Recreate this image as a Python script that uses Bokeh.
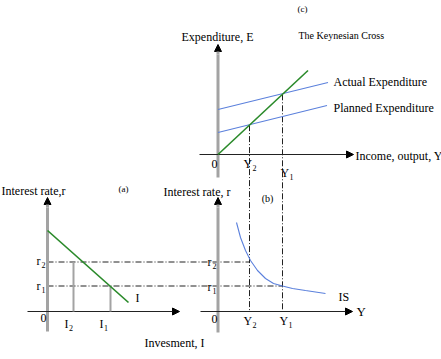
from bokeh.plotting import figure
from bokeh.models import Range1d, Arrow, NormalHead
from bokeh.core.properties import value
from bokeh.embed import file_html
from bokeh.resources import INLINE

FONT = "Liberation Serif"

# ---------------- data (diagram units) ----------------
# Panel (c): Keynesian cross, income Y vs expenditure E
cross_Y = [0, 90]
cross_E = [0, 84]
actual_Y = [0, 110]
actual_E = [45, 72]
planned_Y = [0, 109]
planned_E = [22, 49]
income_levels = {"Y2": 31.5, "Y1": 64.5}

# Panel (a): investment schedule, investment I vs interest rate r
invest_I = [0, 81]
invest_r = [81, 9]
rate_levels = {"r2": 49.5, "r1": 25.5}
invest_levels = {"I2": 26, "I1": 63}

# Panel (b): IS curve, income Y vs interest rate r
is_Y = [18.5, 22.5, 27.5, 32.5, 39.5, 47.5, 55.5, 64.5, 74.5, 87.5, 107.5]
is_r = [89, 74, 61, 51, 41, 33, 28, 25.5, 23, 21, 18]

# ---------------- layout ----------------
C_O = (217.5, 154)   # origin of panel (c)
A_O = (47, 311)      # origin of panel (a)
B_O = (217.5, 311)   # origin of panel (b)

def cx(v): return C_O[0] + v
def cy(v): return C_O[1] - v
def ax(v): return A_O[0] + v
def ay(v): return A_O[1] - v
def bx(v): return B_O[0] + v
def by(v): return B_O[1] - v

GREEN = "#2a8a2a"
BLUE = "#5b80dc"
GRAY = "#a3a3a3"
DARK = "#222222"
DASH = "6 2 1 2"

p = figure(width=441, height=359, min_border=0, toolbar_location=None,
           output_backend="svg", x_range=Range1d(0, 441), y_range=Range1d(359, 0))
p.axis.visible = False
p.grid.visible = False
p.outline_line_color = None
p.background_fill_color = "white"
p.border_fill_color = "white"


def axis_arrow(x0, y0, x1, y1, color, width):
    p.add_layout(Arrow(end=NormalHead(size=7, fill_color="black", line_color="black", line_width=1),
                       x_start=x0, y_start=y0, x_end=x1, y_end=y1,
                       line_color=color, line_width=width))


def label(x, y, s, size=12, align="left"):
    p.text(x=[x], y=[y], text=[s], text_font=value(FONT), text_font_size=f"{size}px",
           text_baseline="middle", text_align=align, text_color="black")


def sublabel(x, y, base, sub, base_w, size=12):
    label(x, y, base, size)
    label(x + base_w + 0.5, y + 4, sub, 8)


# ---------- dashed guide lines (drawn first) ----------
y2, y1 = income_levels["Y2"], income_levels["Y1"]
slope = (cross_E[1] - cross_E[0]) / (cross_Y[1] - cross_Y[0])
for Yv in (y2, y1):
    p.line([cx(Yv), bx(Yv)], [cy(Yv * slope), by(0)], line_color=DARK, line_width=1, line_dash=DASH)
p.line([ax(0), bx(y2)], [ay(rate_levels["r2"]), by(rate_levels["r2"])], line_color=DARK, line_width=1, line_dash=DASH)
p.line([ax(0), bx(y1)], [ay(rate_levels["r1"]), by(rate_levels["r1"])], line_color=DARK, line_width=1, line_dash=DASH)

# ---------- panel (c) ----------
p.line([cx(0), cx(0)], [cy(-23), cy(100)], line_color=GRAY, line_width=3)
axis_arrow(cx(0), cy(100), cx(0), cy(110), GRAY, 3)
p.line([cx(-18.5), cx(128)], [cy(0), cy(0)], line_color=DARK, line_width=1.2)
axis_arrow(cx(120), cy(0), cx(135.5), cy(0), DARK, 1.2)
p.line([cx(v) for v in actual_Y], [cy(v) for v in actual_E], line_color=BLUE, line_width=1.1)
p.line([cx(v) for v in planned_Y], [cy(v) for v in planned_E], line_color=BLUE, line_width=1.1)
p.line([cx(v) for v in cross_Y], [cy(v) for v in cross_E], line_color=GREEN, line_width=1.6)

label(302, 8, "(c)", 9, "center")
label(181, 36, "Expenditure, E", 12)
label(298, 35, "The Keynesian Cross", 10)
label(333, 81, "Actual Expenditure", 12)
label(333, 107, "Planned Expenditure", 12)
label(355, 155, "Income, output, Y", 12)
label(211, 163, "0", 12)
sublabel(243, 163, "Y", "2", 8.5)
sublabel(280, 172, "Y", "1", 8.5)

# ---------- panel (a) ----------
p.line([ax(0), ax(0)], [ay(-20), ay(104)], line_color=GRAY, line_width=3)
axis_arrow(ax(0), ay(104), ax(0), ay(114), GRAY, 3)
p.line([ax(-20), ax(125)], [ay(0), ay(0)], line_color=DARK, line_width=1.2)
axis_arrow(ax(118), ay(0), ax(132), ay(0), DARK, 1.2)
p.line([ax(invest_levels["I2"])] * 2, [ay(rate_levels["r2"]), ay(0)], line_color=GRAY, line_width=2)
p.line([ax(invest_levels["I1"])] * 2, [ay(rate_levels["r1"]), ay(0)], line_color=GRAY, line_width=2)
p.line([ax(v) for v in invest_I], [ay(v) for v in invest_r], line_color=GREEN, line_width=1.6)

label(1, 190, "Interest rate,r", 12)
label(123, 188, "(a)", 9, "center")
sublabel(36, 260, "r", "2", 4.5)
sublabel(36, 285, "r", "1", 4.5)
label(40, 317, "0", 12)
sublabel(64, 323, "I", "2", 4)
sublabel(99, 323, "I", "1", 4)
label(135, 297, "I", 12)
label(144, 342, "Invesment, I", 12)

# ---------- panel (b) ----------
p.line([bx(0), bx(0)], [by(-21), by(104)], line_color=GRAY, line_width=3)
axis_arrow(bx(0), by(104), bx(0), by(114), GRAY, 3)
p.line([bx(-17.5), bx(127)], [by(0), by(0)], line_color=DARK, line_width=1.2)
axis_arrow(bx(120), by(0), bx(134.5), by(0), DARK, 1.2)
p.line([bx(v) for v in is_Y], [by(v) for v in is_r], line_color=BLUE, line_width=1.1)

label(163, 191, "Interest rate, r", 12)
label(267, 198, "(b)", 10, "center")
sublabel(207, 261, "r", "2", 4.5)
sublabel(207, 286, "r", "1", 4.5)
label(211, 318, "0", 12)
sublabel(243, 320, "Y", "2", 8.5)
sublabel(279, 320, "Y", "1", 8.5)
label(338, 296, "IS", 12)
label(356, 311, "Y", 13)

open("out.html", "w").write(file_html(p, INLINE))
